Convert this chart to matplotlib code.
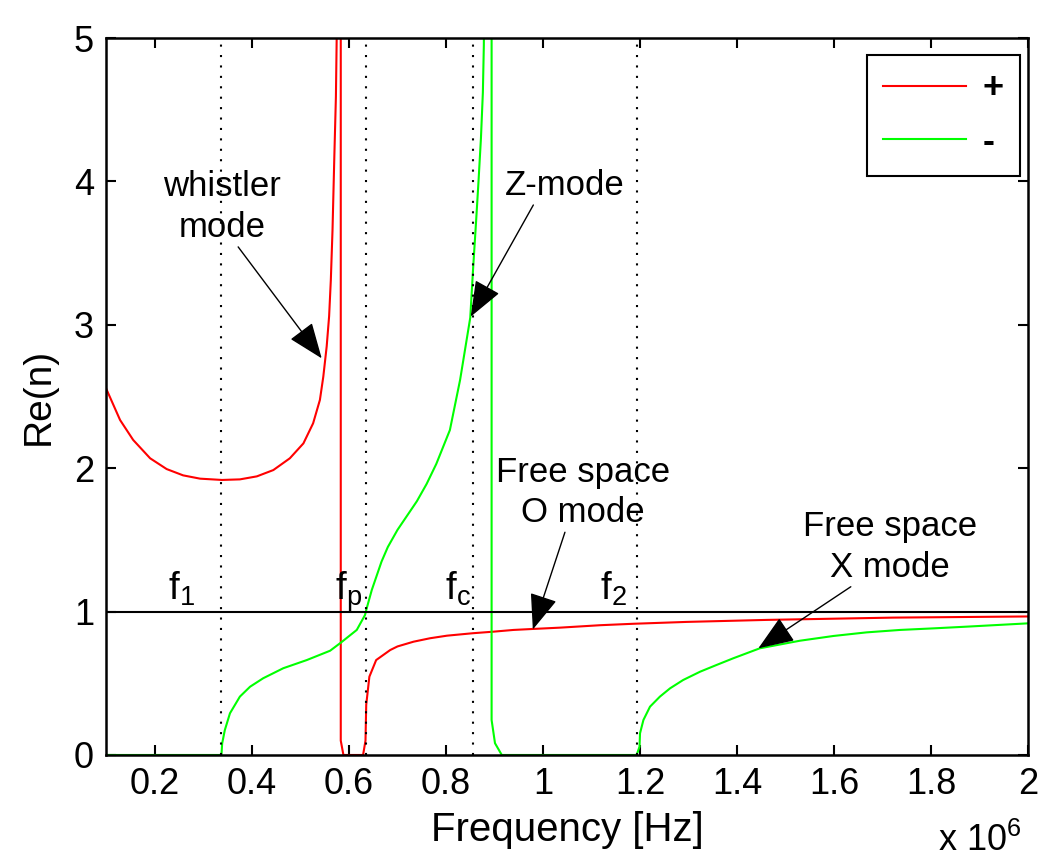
import matplotlib
matplotlib.use("Agg")
import matplotlib.pyplot as plt

plt.rcParams['font.family'] = ['Liberation Sans', 'DejaVu Sans']
plt.rcParams['mathtext.default'] = 'regular'

# Frequencies in units of 1e6 Hz
red_f = [0.100, 0.128, 0.155, 0.190, 0.224, 0.258, 0.293, 0.338, 0.375, 0.410,
         0.444, 0.478, 0.506, 0.526, 0.540, 0.547, 0.554, 0.559, 0.5625, 0.566,
         0.5698, 0.573, 0.5746, 0.578, 0.583, 0.583, 0.5885, 0.629, 0.634, 0.6355,
         0.642, 0.656, 0.685, 0.700, 0.733, 0.767, 0.802, 0.855, 0.898, 0.939,
         0.980, 1.035, 1.118, 1.186, 1.296, 1.461, 1.722, 2.000]
red_n = [2.55, 2.336, 2.197, 2.069, 1.994, 1.950, 1.927, 1.918, 1.922, 1.943,
         1.987, 2.069, 2.173, 2.313, 2.476, 2.638, 2.85, 3.06, 3.31, 3.66,
         4.18, 4.59, 5.00, 9.0, 9.0, 0.10, 0.0, 0.0, 0.10, 0.35,
         0.546, 0.662, 0.732, 0.757, 0.790, 0.814, 0.832, 0.849, 0.860, 0.872,
         0.879, 0.888, 0.905, 0.915, 0.928, 0.942, 0.958, 0.966]

green_f = [0.100, 0.337, 0.3385, 0.344, 0.3546, 0.375, 0.396, 0.423, 0.4645, 0.513,
           0.561, 0.583, 0.616, 0.633, 0.6365, 0.647, 0.667, 0.680, 0.700, 0.720,
           0.740, 0.760, 0.780, 0.808, 0.829, 0.850, 0.856, 0.862, 0.867, 0.872,
           0.876, 0.878, 0.885, 0.894, 0.894, 0.901, 0.915, 1.193, 1.199, 1.200,
           1.207, 1.2206, 1.241, 1.262, 1.289, 1.324, 1.358, 1.392, 1.447, 1.530,
           1.599, 1.667, 1.736, 1.805, 1.874, 2.000]
green_n = [0.0, 0.0, 0.081, 0.174, 0.291, 0.407, 0.476, 0.535, 0.605, 0.662,
           0.727, 0.783, 0.872, 0.976, 1.023, 1.151, 1.348, 1.45, 1.57, 1.67,
           1.77, 1.89, 2.03, 2.266, 2.615, 3.05, 3.40, 3.72, 4.00, 4.30,
           4.62, 4.95, 9.0, 9.0, 0.244, 0.082, 0.0, 0.0, 0.058, 0.151,
           0.244, 0.337, 0.407, 0.465, 0.523, 0.581, 0.628, 0.674, 0.744, 0.797,
           0.830, 0.855, 0.872, 0.883, 0.895, 0.918]

# characteristic frequencies (1e6 Hz)
marker_f = [0.337, 0.635, 0.855, 1.193]
marker_base = ['f', 'f', 'f', 'f']
marker_sub = ['1', 'p', 'c', '2']

x_ticks = [0.2, 0.4, 0.6, 0.8, 1.0, 1.2, 1.4, 1.6, 1.8, 2.0]
x_tick_labels = ['0.2', '0.4', '0.6', '0.8', '1', '1.2', '1.4', '1.6', '1.8', '2']
y_ticks = [0, 1, 2, 3, 4, 5]

legend_labels = ['+', '-']

fig = plt.figure(figsize=(10.42, 8.66), dpi=100)
ax = fig.add_axes([0.1022, 0.1282, 0.8844, 0.8279])

l1, = ax.plot(red_f, red_n, color='#ff0000', lw=1.5, label=legend_labels[0])
l2, = ax.plot(green_f, green_n, color='#00ff00', lw=1.5, label=legend_labels[1])

ax.axhline(1.0, color='black', lw=1.5)
for f in marker_f:
    ax.plot([f, f], [0, 5], color='black', lw=1.5, linestyle=(0, (1, 4)))

label_x = [0.226, 0.571, 0.797, 1.117]
for lx, b, s in zip(label_x, marker_base, marker_sub):
    ax.text(lx, 1.08, b + '$_{' + s + '}$', fontsize=28, ha='left', va='baseline')

ax.set_xlim(0.1, 2.0)
ax.set_ylim(0, 5)
ax.set_xticks(x_ticks)
ax.set_xticklabels(x_tick_labels)
ax.set_yticks(y_ticks)
ax.tick_params(direction='in', top=True, right=True, length=7, width=1.5,
               labelsize=26, pad=9)
for sp in ax.spines.values():
    sp.set_linewidth(1.8)

ax.set_xlabel('Frequency [Hz]', fontsize=29, labelpad=6)
ax.set_ylabel('Re(n)', fontsize=28, labelpad=12)

fig.text(0.900, 0.008, r'x 10$^6$', fontsize=26, ha='left', va='bottom')

arrow = dict(arrowstyle='-|>,head_length=0.9,head_width=0.35', color='black',
             lw=1.0, shrinkA=0, shrinkB=0)
ax.annotate('whistler\nmode', xy=(0.5437, 2.766), xytext=(0.338, 3.82),
            fontsize=25, ha='center', va='center', linespacing=1.3,
            arrowprops=dict(arrow, relpos=(0.62, 0.0)))
ax.annotate('Z-mode', xy=(0.851, 3.057), xytext=(1.045, 3.97),
            fontsize=25, ha='center', va='center',
            arrowprops=dict(arrow, relpos=(0.25, 0.0)))
ax.annotate('Free space\nO mode', xy=(0.979, 0.875), xytext=(1.083, 1.83),
            fontsize=25, ha='center', va='center', linespacing=1.3,
            arrowprops=dict(arrow, relpos=(0.4, 0.0)))
ax.annotate('Free space\nX mode', xy=(1.444, 0.744), xytext=(1.715, 1.45),
            fontsize=25, ha='center', va='center', linespacing=1.3,
            arrowprops=dict(arrow, relpos=(0.3, 0.0)))

leg = ax.legend(handles=[l1, l2], loc='upper right', bbox_to_anchor=(0.991, 0.976),
                borderaxespad=0, handlelength=2.3, handletextpad=0.45,
                labelspacing=0.5, fancybox=False, framealpha=1, edgecolor='black',
                borderpad=0.45, prop={'size': 26, 'weight': 'bold'})
leg.get_frame().set_linewidth(1.5)

fig.savefig('out.png', dpi=100)
